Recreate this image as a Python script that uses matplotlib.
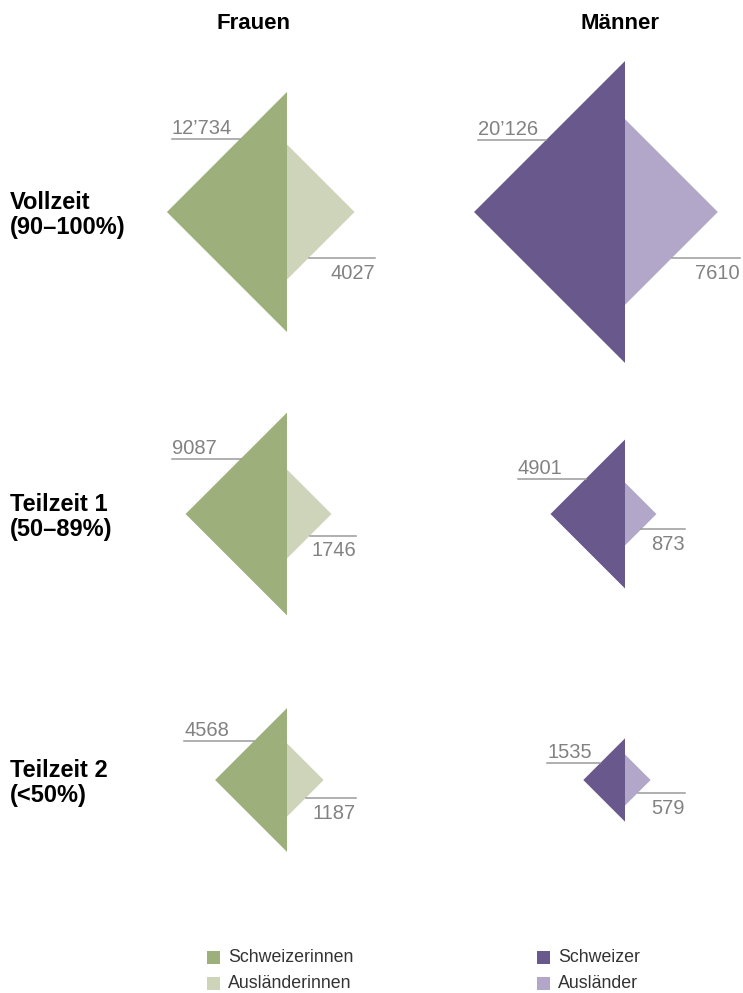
import matplotlib.pyplot as plt
import numpy as np
from matplotlib.patches import Polygon, Rectangle

# data
groups = ["Frauen", "Männer"]
rows = ["Vollzeit\n(90–100%)", "Teilzeit 1\n(50–89%)", "Teilzeit 2\n(<50%)"]
swiss_f = [12734, 9087, 4568]
foreign_f = [4027, 1746, 1187]
swiss_m = [20126, 4901, 1535]
foreign_m = [7610, 873, 579]
legend_f = ["Schweizerinnen", "Ausländerinnen"]
legend_m = ["Schweizer", "Ausländer"]

colors_f = ["#9daf7b", "#cdd4b9"]
colors_m = ["#69588c", "#b2a7c8"]

# layout (pixels)
col_x = [287, 625]
row_y = [212, 514, 780]
k = 1.064  # px per sqrt(value) -> area proportional to value
big_dy = [[73, 55, 39], [72, 35, 17]]
big_len = [[68, 69, 70], [68, 68, 53]]
small_dy = [[46, 21.5, 18], [46, 15, 12.5]]
small_end = [[375, 356, 356], [740, 685, 685]]

num_font = ["Liberation Sans", "DejaVu Sans"]
num_col = "#828282"
line_col = "#9a9a9a"


def fmt(v):
    s = str(v)
    if v >= 10000:
        s = s[:-3] + "’" + s[-3:]
    return s


fig = plt.figure(figsize=(7.43, 9.93), dpi=100)
ax = fig.add_axes([0, 0, 1, 1])
ax.set_xlim(0, 743)
ax.set_ylim(993, 0)
ax.axis("off")

data = [(swiss_f, foreign_f, colors_f), (swiss_m, foreign_m, colors_m)]
for c, (sw, fo, cols) in enumerate(data):
    cx = col_x[c]
    for r in range(3):
        cy = row_y[r]
        hb = k * np.sqrt(sw[r])
        hs = k * np.sqrt(fo[r])
        ax.add_patch(Polygon([(cx, cy - hb), (cx - hb, cy), (cx, cy + hb)],
                             closed=True, facecolor=cols[0], edgecolor="none"))
        ax.add_patch(Polygon([(cx, cy - hs), (cx + hs, cy), (cx, cy + hs)],
                             closed=True, facecolor=cols[1], edgecolor="none"))
        # big label
        ly = cy - big_dy[c][r]
        ex = cx - (hb - big_dy[c][r])
        x0 = ex - big_len[c][r]
        ax.plot([x0, ex], [ly, ly], color=line_col, lw=1.1)
        ax.text(x0, ly - 5, fmt(sw[r]), fontsize=14.5, color=num_col,
                family=num_font, ha="left", va="baseline")
        # small label
        ly = cy + small_dy[c][r]
        ex = cx + (hs - small_dy[c][r])
        x1 = small_end[c][r]
        ax.plot([ex, x1], [ly, ly], color=line_col, lw=1.1)
        ax.text(x1, ly + 21, fmt(fo[r]), fontsize=14.5, color=num_col,
                family=num_font, ha="right", va="baseline")

# headers
head_x = [254, 620]
for c, g in enumerate(groups):
    ax.text(head_x[c], 29, g, fontsize=16, fontweight="bold",
            family=["Liberation Sans Narrow", "Liberation Sans", "DejaVu Sans"],
            ha="center", va="baseline", color="black")

# row labels
for r, lab in enumerate(rows):
    ax.text(10, row_y[r] + 3, lab, fontsize=17, fontweight="bold",
            family=num_font, ha="left", va="center", color="black",
            linespacing=1.1)

# legend
leg_x = [207, 537]
leg_y = [957, 983]
for c, (labs, cols) in enumerate([(legend_f, colors_f), (legend_m, colors_m)]):
    for i in range(2):
        ax.add_patch(Rectangle((leg_x[c], leg_y[i] - 6.5), 13, 13,
                               facecolor=cols[i], edgecolor="none"))
        ax.text(leg_x[c] + 21, leg_y[i] + 1, labs[i], fontsize=12.8,
                color="#333333", family=num_font, ha="left", va="center")

plt.savefig("out.png", dpi=100)
